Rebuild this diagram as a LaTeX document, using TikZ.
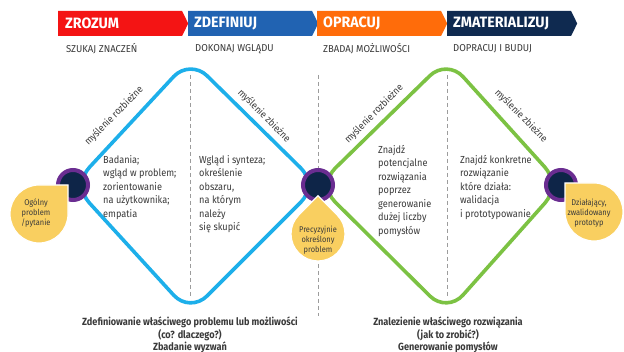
\documentclass[tikz,border=0pt]{standalone}
\usepackage{fontspec}
\setmainfont{Fira Sans}[FakeStretch=0.9]
\newfontfamily\narrowfont{Fira Sans}[FakeStretch=0.88]
\newfontfamily\widefont{Fira Sans}[FakeStretch=0.95]
\usetikzlibrary{positioning,shapes.symbols}

\definecolor{hred}{HTML}{F41414}
\definecolor{hblue}{HTML}{2163B2}
\definecolor{horange}{HTML}{FF6C0A}
\definecolor{hnavy}{HTML}{0F2A50}
\definecolor{skyline}{HTML}{1DAFEA}
\definecolor{leafline}{HTML}{7CC243}
\definecolor{ringpurple}{HTML}{6A2D91}
\definecolor{corenavy}{HTML}{0E2548}
\definecolor{dropyellow}{HTML}{F9CF60}
\definecolor{txtgray}{HTML}{3A3A3A}
\definecolor{guidegray}{HTML}{9C9C9C}

\tikzset{
  phase/.style={signal, signal to=east, signal pointer angle=128,
    minimum width=130pt, minimum height=25pt, inner sep=0pt, anchor=west},
  phasetitle/.style={text=white, inner sep=0pt, anchor=west,
    font=\widefont\bfseries\fontsize{15}{15}\selectfont},
  phasesub/.style={text=txtgray, inner sep=0pt, anchor=west,
    font=\widefont\fontsize{10}{11}\selectfont},
  guide/.style={guidegray, dashed, dash pattern=on 4pt off 3pt, line width=0.8pt},
  stage/.style={circle, fill=corenavy, draw=ringpurple, line width=4pt,
    minimum size=30pt, inner sep=0pt},
  drop/.style={fill=dropyellow, draw=white, line width=1.2pt},
  droptext/.style={text=txtgray, align=center, inner sep=0pt,
    font=\fontsize{8.3}{10}\selectfont},
  note/.style={text=txtgray, align=left, inner sep=0pt, anchor=north west,
    font=\fontsize{10.2}{13.5}\selectfont},
  think/.style={text=txtgray, inner sep=0pt, font=\fontsize{10}{12}\selectfont},
  summary/.style={text=txtgray, align=center, inner sep=0pt,
    font=\narrowfont\bfseries\fontsize{10.4}{12.3}\selectfont}
}

\begin{document}
\begin{tikzpicture}[x=1pt,y=-1pt]
\useasboundingbox[fill=white] (0,0) rectangle (624,352);

% the four phases
\node[phase, fill=hred] (zrozum) at (58,23.5) {};
\node[phase, fill=hblue] (zdefiniuj) at (188,23.5) {};
\node[phase, fill=horange] (opracuj) at (317,23.5) {};
\node[phase, fill=hnavy] (zmaterializuj) at (447,23.5) {};
\node[phasetitle, right=7pt of zrozum.west] (t1) {ZROZUM};
\node[phasetitle, right=6pt of zdefiniuj.west] (t2) {ZDEFINIUJ};
\node[phasetitle, right=6pt of opracuj.west] (t3) {OPRACUJ};
\node[phasetitle, right=6pt of zmaterializuj.west] (t4) {ZMATERIALIZUJ};
\node[phasesub] (s1) at (66,49) {SZUKAJ ZNACZEŃ};
\node[phasesub] (s2) at (195,49) {DOKONAJ WGLĄDU};
\node[phasesub] (s3) at (323,49) {ZBADAJ MOŻLIWOŚCI};
\node[phasesub] (s4) at (453,49) {DOPRACUJ I BUDUJ};

% dashed split lines
\draw[guide] (190,75) -- (190,298);
\draw[guide] (318,75) -- (318,316);
\draw[guide] (447,75) -- (447,298);

% double diamond
\draw[skyline, line width=3.6pt, rounded corners=24pt]
  (73,185) -- (190,59) -- (318,185) -- (190,313) -- cycle;
\draw[leafline, line width=3.6pt, rounded corners=24pt]
  (318,185) -- (447,59) -- (561,185) -- (447,313) -- cycle;

\node[stage] (start) at (73,185) {};
\node[stage] (mid) at (318,185) {};
\node[stage] (end) at (561,185) {};

% drops
\filldraw[drop] (39,214) ++(29,0) -- ++(0,-29) -- ++(-29,0)
  arc[start angle=270, end angle=0, radius=29];
\filldraw[drop] (318,234) ++(-45:27) -- ++(-19.09,-19.09) -- ++(-19.09,19.09)
  arc[start angle=225, end angle=-45, radius=27] -- cycle;
\filldraw[drop] (594,212) ++(-29,0) -- ++(0,-29) -- ++(29,0)
  arc[start angle=270, end angle=540, radius=29];
\node[droptext] (general) at (36,213) {Ogólny\\problem\\/pytanie};
\node[droptext] (precise) at (318,240) {Precyzyjnie\\określony\\problem};
\node[droptext] (proto) at (589,213) {Działający,\\zwalidowany\\prototyp};

% notes inside
\node[note] (n1) at (103,155) {Badania;\\wgląd w problem;\\zorientowanie\\na użytkownika;\\empatia};
\node[note] (n2) at (199,155) {Wgląd i synteza;\\określenie\\obszaru,\\na którym\\należy\\się skupić};
\node[note] (n3) at (378,145) {Znajdź\\potencjalne\\rozwiązania\\poprzez\\generowanie\\dużej liczby\\pomysłów};
\node[note] (n4) at (460,155) {Znajdź konkretne\\rozwiązanie\\które działa:\\walidacja\\i prototypowanie};

\node[think, rotate=45] (d1) at (114,116) {myślenie rozbieżne};
\node[think, rotate=-45] (c1) at (264,116) {myślenie zbieżne};
\node[think, rotate=45] (d2) at (374,114) {myślenie rozbieżne};
\node[think, rotate=-45] (c2) at (521,116) {myślenie zbieżne};

\node[summary] (why) at (190,335)
  {Zdefiniowanie właściwego problemu lub możliwości\\(co? dlaczego?)\\Zbadanie wyzwań};
\node[summary] (how) at (448,335)
  {Znalezienie właściwego rozwiązania\\(jak to zrobić?)\\Generowanie pomysłów};
\end{tikzpicture}
\end{document}
